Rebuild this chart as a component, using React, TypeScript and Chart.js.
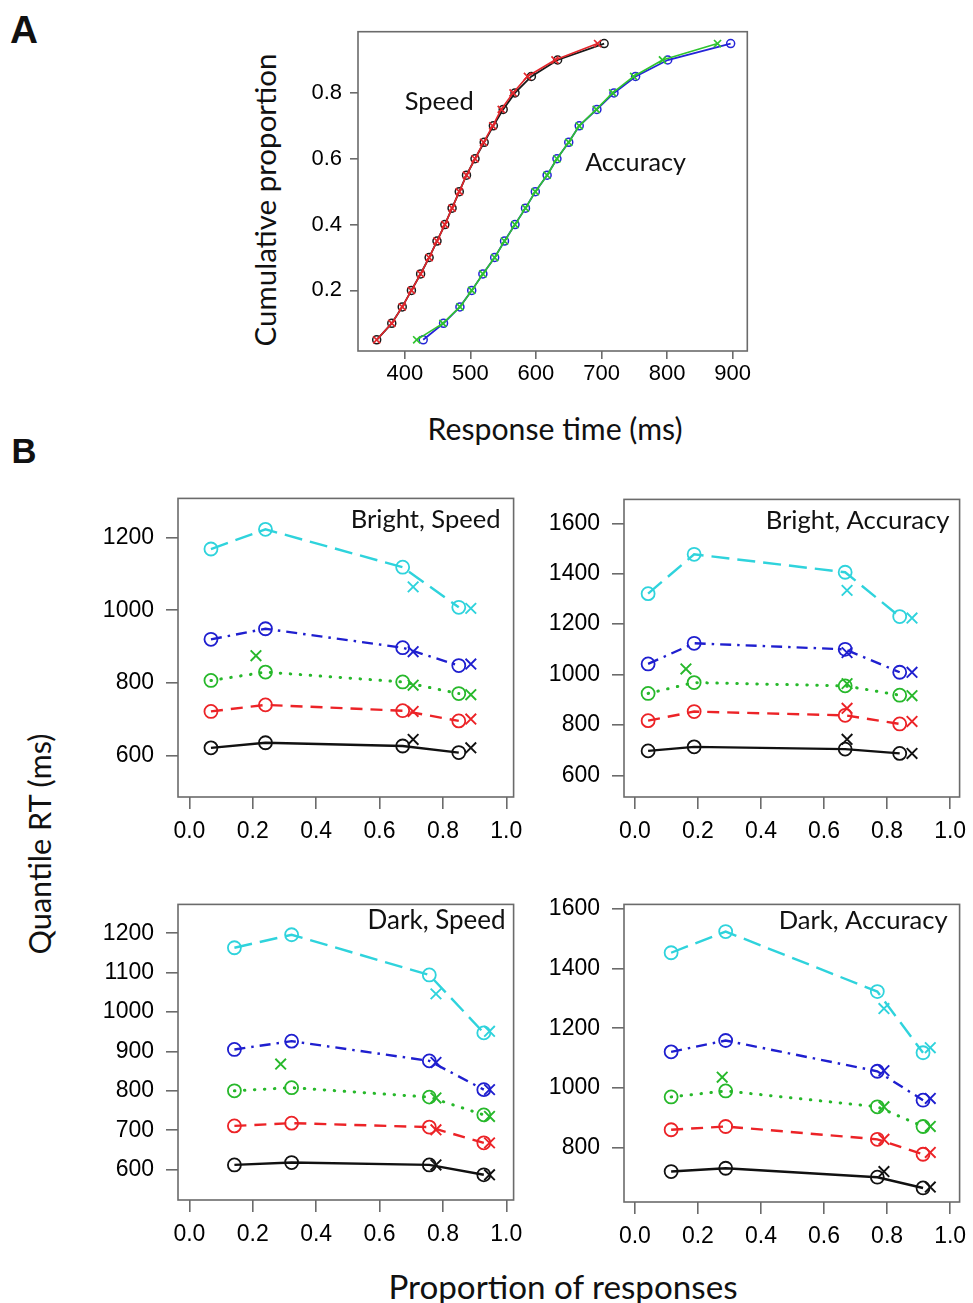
import React, { useEffect, useRef } from 'react';
import { Chart, registerables } from 'chart.js';

Chart.register(...registerables);

// ---------------- Panel A data ----------------
const cumProportion = [0.05, 0.1, 0.15, 0.2, 0.25, 0.3, 0.35, 0.4, 0.45, 0.5, 0.55, 0.6, 0.65, 0.7, 0.75, 0.8, 0.85, 0.9, 0.95];
const speedObservedRT = [357, 380, 396, 410, 424, 437, 449, 461, 472, 483, 494, 507, 521, 535, 550, 568, 593, 633, 704];
const speedPredictedRT = [357, 380, 396, 410, 424, 437, 449, 461, 472, 483, 494, 507, 520, 534, 547, 565, 587, 629, 694];
const accuracyObservedRT = [428, 459, 484, 502, 519, 537, 552, 568, 584, 599, 617, 632, 650, 666, 693, 719, 752, 801, 897];
const accuracyPredictedRT = [418, 458, 484, 502, 519, 537, 552, 568, 584, 599, 617, 632, 650, 666, 692, 717, 749, 793, 877];
const panelAXTicks = [400, 500, 600, 700, 800, 900];
const panelAYTicks = [0.2, 0.4, 0.6, 0.8];

// ---------------- Panel B data ----------------
const quantileNames = ['0.1', '0.3', '0.5', '0.7', '0.9'];
const propTicks = [0, 0.2, 0.4, 0.6, 0.8, 1.0];

// Bright, Speed
const brightSpeedObsX = [0.068, 0.24, 0.673, 0.85];
const brightSpeedObs = [
  [622, 636, 627, 609],
  [722, 740, 724, 696],
  [807, 830, 803, 771],
  [920, 949, 897, 848],
  [1168, 1222, 1118, 1008],
];
const brightSpeedPredX = [0.21, 0.706, 0.888];
const brightSpeedPred = [
  [null, 645, 622],
  [null, 722, 701],
  [875, 794, 768],
  [null, 886, 852],
  [null, 1064, 1005],
];
const brightSpeedYTicks = [600, 800, 1000, 1200];

// Bright, Accuracy
const brightAccObsX = [0.042, 0.188, 0.667, 0.84];
const brightAccObs = [
  [697, 713, 704, 687],
  [817, 853, 838, 804],
  [925, 968, 955, 918],
  [1042, 1124, 1100, 1009],
  [1321, 1477, 1406, 1230],
];
const brightAccPredX = [0.162, 0.673, 0.879];
const brightAccPred = [
  [null, 743, 687],
  [null, 866, 814],
  [1022, 964, 916],
  [null, 1087, 1009],
  [null, 1334, 1224],
];
const brightAccYTicks = [600, 800, 1000, 1200, 1400, 1600];

// Dark, Speed
const darkSpeedObsX = [0.142, 0.3225, 0.757, 0.929];
const darkSpeedObs = [
  [612, 618, 612, 587],
  [711, 718, 708, 668],
  [800, 808, 784, 739],
  [905, 926, 876, 803],
  [1163, 1196, 1094, 947],
];
const darkSpeedPredX = [0.288, 0.778, 0.947];
const darkSpeedPred = [
  [null, 612, 587],
  [null, 701, 668],
  [868, 782, 735],
  [null, 872, 803],
  [null, 1046, 951],
];
const darkSpeedYTicks = [600, 700, 800, 900, 1000, 1100, 1200];

// Dark, Accuracy
const darkAccObsX = [0.115, 0.288, 0.769, 0.914];
const darkAccObs = [
  [720, 731, 701, 665],
  [860, 871, 828, 778],
  [970, 990, 937, 871],
  [1121, 1159, 1056, 959],
  [1453, 1524, 1323, 1118],
];
const darkAccPredX = [0.277, 0.79, 0.937];
const darkAccPred = [
  [null, 720, 668],
  [null, 828, 784],
  [1036, 937, 871],
  [null, 1058, 965],
  [null, 1266, 1135],
];
const darkAccYTicks = [800, 1000, 1200, 1400, 1600];

// ---------------- styles ----------------
const quantileColors = ['#111111', '#ec2327', '#27b82b', '#1f1fcf', '#2fd3dc'];
const quantileDashes: number[][] = [[], [12, 8], [0.5, 9.5], [11, 6, 2.5, 6], [18, 8]];
const quantileCaps = ['butt', 'butt', 'round', 'butt', 'butt'];
const quantileWidths = [2.4, 2.4, 3, 2.4, 2.4];
const TICK_FONT = '"Liberation Sans", Arial, sans-serif';
const LABEL_FONT = 'Lato, "Open Sans", sans-serif';

let measureCtx: CanvasRenderingContext2D | null = null;
function fitPx(text: string, family: string, weight: string, target: number): number {
  if (!measureCtx) measureCtx = document.createElement('canvas').getContext('2d');
  measureCtx!.font = `${weight} 100px ${family}`;
  const w = measureCtx!.measureText(text).width;
  return (100 * target) / w;
}

const boxPlugin = {
  id: 'rbox',
  afterDraw(chart: any, _args: any, opts: any) {
    const { ctx, chartArea: a } = chart;
    ctx.save();
    ctx.strokeStyle = '#6b6b6b';
    ctx.lineWidth = 1.6;
    ctx.setLineDash([]);
    ctx.strokeRect(a.left, a.top, a.right - a.left, a.bottom - a.top);
    ctx.fillStyle = '#111';
    ctx.textBaseline = 'middle';
    (opts.texts || []).forEach((t: any) => {
      const size = fitPx(t.text, LABEL_FONT, 'normal', t.width);
      ctx.font = `normal ${size}px ${LABEL_FONT}`;
      if (t.mode === 'data') {
        ctx.textAlign = 'center';
        ctx.fillText(t.text, chart.scales.x.getPixelForValue(t.x), chart.scales.y.getPixelForValue(t.y));
      } else {
        ctx.textAlign = 'right';
        ctx.fillText(t.text, a.right - t.gapRight, a.top + t.gapTop);
      }
    });
    ctx.restore();
  },
};

type Box = { l: number; t: number; r: number; b: number };
type Spec = {
  box: Box;
  yW: number;
  xH: number;
  xMin: number;
  xMax: number;
  yMin: number;
  yMax: number;
  xTicks: number[];
  yTicks: number[];
  xFmt: (v: number) => string;
  yFmt: (v: number) => string;
  tickLen: number;
  xPad: number;
  yPad: number;
  fontSize: number;
  datasets: any[];
  texts: any[];
};

function zeroPad(s: any) {
  s.paddingLeft = 0;
  s.paddingRight = 0;
  s.paddingTop = 0;
  s.paddingBottom = 0;
}

function buildConfig(sp: Spec): any {
  const grid = {
    drawOnChartArea: false,
    drawTicks: true,
    tickLength: sp.tickLen,
    color: '#6b6b6b',
    lineWidth: 1.6,
  };
  return {
    type: 'scatter',
    data: { datasets: sp.datasets },
    plugins: [boxPlugin],
    options: {
      responsive: false,
      animation: false,
      devicePixelRatio: 1,
      layout: { padding: { left: 0, top: 4, right: 6, bottom: 0 } },
      plugins: { legend: { display: false }, tooltip: { enabled: false }, rbox: { texts: sp.texts } },
      scales: {
        x: {
          type: 'linear',
          min: sp.xMin,
          max: sp.xMax,
          afterBuildTicks: (s: any) => {
            s.ticks = sp.xTicks.map((v) => ({ value: v }));
          },
          afterFit: (s: any) => {
            s.height = sp.xH;
            zeroPad(s);
          },
          grid,
          border: { display: false },
          ticks: {
            autoSkip: false,
            maxRotation: 0,
            minRotation: 0,
            padding: sp.xPad,
            color: '#000',
            font: { family: TICK_FONT, size: sp.fontSize },
            callback: (v: number) => sp.xFmt(v),
          },
        },
        y: {
          type: 'linear',
          min: sp.yMin,
          max: sp.yMax,
          afterBuildTicks: (s: any) => {
            s.ticks = sp.yTicks.map((v) => ({ value: v }));
          },
          afterFit: (s: any) => {
            s.width = sp.yW;
            zeroPad(s);
          },
          grid,
          border: { display: false },
          ticks: {
            autoSkip: false,
            padding: sp.yPad,
            color: '#000',
            font: { family: TICK_FONT, size: sp.fontSize },
            callback: (v: number) => sp.yFmt(v),
          },
        },
      },
    },
  };
}

function ChartPanel({ spec }: { spec: Spec }) {
  const ref = useRef<HTMLCanvasElement>(null);
  const cw = spec.box.r - spec.box.l + spec.yW + 6;
  const ch = spec.box.b - spec.box.t + 4 + spec.xH;
  useEffect(() => {
    const chart = new Chart(ref.current as HTMLCanvasElement, buildConfig(spec));
    return () => chart.destroy();
  }, []);
  return (
    <canvas
      ref={ref}
      width={cw}
      height={ch}
      style={{ position: 'absolute', left: spec.box.l - spec.yW, top: spec.box.t - 4, width: cw, height: ch }}
    />
  );
}

function pts(xs: number[], ys: (number | null)[]) {
  return xs.map((x, i) => ({ x, y: ys[i] })).filter((p) => p.y !== null);
}

function quantileDatasets(obsX: number[], obs: number[][], predX: number[], pred: (number | null)[][]) {
  const sets: any[] = [];
  quantileNames.forEach((q, i) => {
    sets.push({
      label: `model ${q}`,
      data: pts(predX, pred[i]),
      showLine: false,
      pointStyle: 'crossRot',
      pointRadius: 7.5,
      pointBorderWidth: 1.9,
      pointBorderColor: quantileColors[i],
      borderColor: quantileColors[i],
    });
  });
  quantileNames.forEach((q, i) => {
    sets.push({
      label: `data ${q}`,
      data: pts(obsX, obs[i]),
      showLine: true,
      borderColor: quantileColors[i],
      borderWidth: quantileWidths[i],
      borderDash: quantileDashes[i],
      borderCapStyle: quantileCaps[i],
      pointStyle: 'circle',
      pointRadius: 6.5,
      pointBorderWidth: 1.8,
      pointBorderColor: quantileColors[i],
      pointBackgroundColor: 'rgba(0,0,0,0)',
      tension: 0,
    });
  });
  return sets;
}

const fmt1 = (v: number) => v.toFixed(1);
const fmt0 = (v: number) => String(Math.round(v));

const panelA: Spec = {
  box: { l: 358, t: 29, r: 748, b: 351 },
  yW: 60,
  xH: 50,
  xMin: 328.5,
  xMax: 922.4,
  yMin: 0.016,
  yMax: 0.986,
  xTicks: panelAXTicks,
  yTicks: panelAYTicks,
  xFmt: fmt0,
  yFmt: fmt1,
  tickLen: 8,
  xPad: 2,
  yPad: 8,
  fontSize: 22,
  datasets: [
    {
      label: 'Speed model',
      data: pts(speedPredictedRT, cumProportion),
      showLine: true,
      borderColor: '#e3262b',
      borderWidth: 1.6,
      pointStyle: 'crossRot',
      pointRadius: 5,
      pointBorderWidth: 1.7,
      pointBorderColor: '#e3262b',
    },
    {
      label: 'Speed data',
      data: pts(speedObservedRT, cumProportion),
      showLine: true,
      borderColor: '#1a1a1a',
      borderWidth: 1.8,
      pointStyle: 'circle',
      pointRadius: 4,
      pointBorderWidth: 1.5,
      pointBorderColor: '#1a1a1a',
      pointBackgroundColor: 'rgba(0,0,0,0)',
    },
    {
      label: 'Accuracy model',
      data: pts(accuracyPredictedRT, cumProportion),
      showLine: true,
      borderColor: '#2fc42f',
      borderWidth: 1.6,
      pointStyle: 'crossRot',
      pointRadius: 5,
      pointBorderWidth: 1.7,
      pointBorderColor: '#2fc42f',
    },
    {
      label: 'Accuracy data',
      data: pts(accuracyObservedRT, cumProportion),
      showLine: true,
      borderColor: '#2424d8',
      borderWidth: 1.8,
      pointStyle: 'circle',
      pointRadius: 4,
      pointBorderWidth: 1.5,
      pointBorderColor: '#2424d8',
      pointBackgroundColor: 'rgba(0,0,0,0)',
    },
  ],
  texts: [
    { mode: 'data', text: 'Speed', x: 452.5, y: 0.772, width: 69 },
    { mode: 'data', text: 'Accuracy', x: 752, y: 0.586, width: 101 },
  ],
};

const bCommon = { yW: 85, xH: 55, xTicks: propTicks, xFmt: fmt1, yFmt: fmt0, tickLen: 12, xPad: 9, yPad: 12, fontSize: 23 };

const panelBS: Spec = {
  ...bCommon,
  box: { l: 178, t: 493, r: 517, b: 797 },
  xMin: -0.036,
  xMax: 1.023,
  yMin: 487,
  yMax: 1307,
  yTicks: brightSpeedYTicks,
  datasets: quantileDatasets(brightSpeedObsX, brightSpeedObs, brightSpeedPredX, brightSpeedPred),
  texts: [{ mode: 'title', text: 'Bright, Speed', width: 150, gapRight: 13, gapTop: 21 }],
};
const panelBA: Spec = {
  ...bCommon,
  box: { l: 624, t: 494, r: 963, b: 797 },
  xMin: -0.0345,
  xMax: 1.03,
  yMin: 514,
  yMax: 1695,
  yTicks: brightAccYTicks,
  datasets: quantileDatasets(brightAccObsX, brightAccObs, brightAccPredX, brightAccPred),
  texts: [{ mode: 'title', text: 'Bright, Accuracy', width: 184, gapRight: 10, gapTop: 21 }],
};
const panelDS: Spec = {
  ...bCommon,
  box: { l: 178, t: 899, r: 517, b: 1200 },
  xMin: -0.036,
  xMax: 1.023,
  yMin: 523,
  yMax: 1273,
  yTicks: darkSpeedYTicks,
  datasets: quantileDatasets(darkSpeedObsX, darkSpeedObs, darkSpeedPredX, darkSpeedPred),
  texts: [{ mode: 'title', text: 'Dark, Speed', width: 138, gapRight: 8, gapTop: 16 }],
};
const panelDA: Spec = {
  ...bCommon,
  box: { l: 624, t: 899, r: 963, b: 1202 },
  xMin: -0.0345,
  xMax: 1.03,
  yMin: 618,
  yMax: 1615,
  yTicks: darkAccYTicks,
  datasets: quantileDatasets(darkAccObsX, darkAccObs, darkAccPredX, darkAccPred),
  texts: [{ mode: 'title', text: 'Dark, Accuracy', width: 169, gapRight: 12, gapTop: 16 }],
};

function Label({ text, cx, cy, width, vertical, bold, family }: any) {
  const fam = family || LABEL_FONT;
  const weight = bold ? 'bold' : 'normal';
  const size = fitPx(text, fam, weight, width);
  return (
    <div
      style={{
        position: 'absolute',
        left: cx,
        top: cy,
        transform: `translate(-50%, -50%)${vertical ? ' rotate(-90deg)' : ''}`,
        fontFamily: fam,
        fontWeight: weight as any,
        fontSize: size,
        lineHeight: 1,
        whiteSpace: 'nowrap',
        color: '#111',
      }}
    >
      {text}
    </div>
  );
}

export default function App() {
  return (
    <div style={{ position: 'absolute', left: 0, top: 0, width: 973, height: 1303, background: '#fff', overflow: 'hidden' }}>
      <Label text="A" cx={24} cy={30} width={28} bold family={TICK_FONT} />
      <Label text="B" cx={24} cy={451} width={25} bold family={TICK_FONT} />
      <Label text="Cumulative proportion" cx={265} cy={200} width={293} vertical />
      <Label text="Response time (ms)" cx={555} cy={428} width={255} />
      <Label text="Quantile RT (ms)" cx={40} cy={844} width={222} vertical />
      <Label text="Proportion of responses" cx={563} cy={1287} width={350} />
      <ChartPanel spec={panelA} />
      <ChartPanel spec={panelBS} />
      <ChartPanel spec={panelBA} />
      <ChartPanel spec={panelDS} />
      <ChartPanel spec={panelDA} />
    </div>
  );
}
